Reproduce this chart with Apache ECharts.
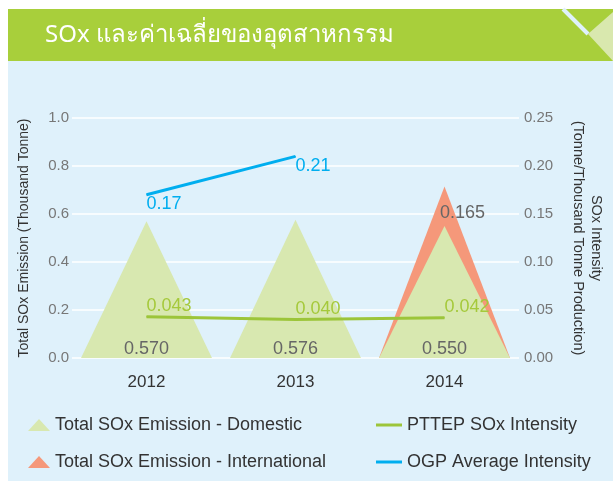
<!DOCTYPE html>
<html>
<head>
<meta charset="utf-8">
<script src="https://cdn.jsdelivr.net/npm/echarts@6/dist/echarts.min.js"></script>
<style>
  html, body { margin: 0; padding: 0; background: #ffffff; }
  #chartmain { width: 613px; height: 481px; }
</style>
</head>
<body>
<div id="chartmain"></div>
<script>
// data
var years = ['2012', '2013', '2014'];
var domestic = [0.570, 0.576, 0.550];
var international = [null, null, 0.165];
var pttepIntensity = [0.043, 0.040, 0.042];
var ogpIntensity = [0.17, 0.21, null];
var leftTicks = [0, 0.2, 0.4, 0.6, 0.8, 1.0];
var rightTicks = [0, 0.05, 0.10, 0.15, 0.20, 0.25];

// orange triangle sits behind the green one, so its height is the total
var totals = domestic.map(function (v, i) {
    return international[i] == null ? null : +(v + international[i]).toFixed(3);
});

var myChart = echarts.init(document.getElementById('chartmain'));
var font = 'Liberation Sans, Arial, sans-serif';

var option = {
    backgroundColor: '#ffffff',
    textStyle: { fontFamily: font },
    graphic: [
        // light blue panel
        { type: 'rect', shape: { x: 8, y: 61, width: 605, height: 420 }, style: { fill: '#dff1fb' }, z: -10 },
        // header bar
        { type: 'rect', shape: { x: 8, y: 9, width: 605, height: 52 }, style: { fill: '#a8cf3b' }, z: -5 },
        { type: 'polygon', shape: { points: [[588, 34], [613, 12], [613, 61]] }, style: { fill: '#d9e8ae' }, z: -4 },
        { type: 'line', shape: { x1: 563, y1: 9, x2: 588, y2: 34 }, style: { stroke: '#dff1fb', lineWidth: 4 }, z: -4 },
        {
            type: 'text', left: 45, top: 23,
            style: { text: 'SOx และค่าเฉลี่ยของอุตสาหกรรม', fill: '#ffffff', fontSize: 24, fontFamily: 'Noto Sans, DejaVu Sans, sans-serif' }
        }
    ],
    legend: [
        {
            left: 23, top: 411, orient: 'vertical', itemGap: 19,
            itemWidth: 22, itemHeight: 12,
            textStyle: { color: '#333', fontSize: 18, fontFamily: font },
            data: [
                { name: 'Total SOx Emission - Domestic', icon: 'triangle' },
                { name: 'Total SOx Emission - International', icon: 'triangle' }
            ]
        },
        {
            left: 371, top: 411, orient: 'vertical', itemGap: 19,
            itemWidth: 26, itemHeight: 3,
            textStyle: { color: '#333', fontSize: 18, fontFamily: font },
            data: [
                { name: 'PTTEP SOx Intensity', icon: 'rect' },
                { name: 'OGP Average Intensity', icon: 'rect' }
            ]
        }
    ],
    grid: { left: 72, right: 90, top: 118, bottom: 123 },
    xAxis: {
        type: 'category',
        data: years,
        axisLine: { show: false },
        axisTick: { show: false },
        axisLabel: { color: '#333', fontSize: 17, margin: 16 }
    },
    yAxis: [
        {
            type: 'value', min: 0, max: 1, interval: 0.2,
            name: 'Total SOx Emission (Thousand Tonne)',
            nameLocation: 'middle', nameGap: 41, nameRotate: 90,
            nameTextStyle: { color: '#333', fontSize: 14 },
            axisLabel: {
                color: '#777', fontSize: 15, margin: 3,
                formatter: function (v) { return v.toFixed(1); }
            },
            splitLine: { lineStyle: { color: '#ffffff', width: 1.5 } }
        },
        {
            type: 'value', min: 0, max: 0.25, interval: 0.05,
            name: 'SOx Intensity\n(Tonne/Thousand Tonne Production)',
            nameLocation: 'middle', nameGap: 50, nameRotate: -90,
            nameTextStyle: { color: '#333', fontSize: 14.5, lineHeight: 18 },
            axisLabel: {
                color: '#777', fontSize: 15, margin: 5,
                formatter: function (v) { return v.toFixed(2); }
            },
            splitLine: { show: false }
        }
    ],
    series: [
        {
            name: 'Total SOx Emission - International',
            type: 'pictorialBar',
            symbol: 'triangle',
            symbolSize: [131, '100%'],
            barGap: '-100%',
            itemStyle: { color: '#f5987a' },
            z: 1,
            label: {
                show: true, position: 'insideTop', offset: [18, 13],
                color: '#666', fontSize: 18,
                formatter: function (p) { return international[p.dataIndex].toFixed(3); }
            },
            data: totals
        },
        {
            name: 'Total SOx Emission - Domestic',
            type: 'pictorialBar',
            symbol: 'triangle',
            symbolSize: [131, '100%'],
            barGap: '-100%',
            itemStyle: { color: '#d8e8b0' },
            z: 2,
            label: {
                show: true, position: 'insideBottom', offset: [0, 5],
                color: '#666', fontSize: 18,
                formatter: function (p) { return p.value.toFixed(3); }
            },
            data: domestic
        },
        {
            name: 'PTTEP SOx Intensity',
            type: 'line',
            yAxisIndex: 1,
            symbol: 'circle', symbolSize: 1,
            lineStyle: { color: '#9cc53a', width: 3 },
            itemStyle: { color: '#9cc53a' },
            z: 5,
            label: {
                show: true, position: 'top', align: 'left', distance: 1,
                color: '#a5c93b', fontSize: 18,
                formatter: function (p) { return p.value.toFixed(3); }
            },
            data: pttepIntensity
        },
        {
            name: 'OGP Average Intensity',
            type: 'line',
            yAxisIndex: 1,
            symbol: 'circle', symbolSize: 1,
            lineStyle: { color: '#00aeef', width: 3 },
            itemStyle: { color: '#00aeef' },
            z: 5,
            label: {
                show: true, position: 'bottom', align: 'left', distance: 0,
                color: '#00aeef', fontSize: 18,
                formatter: function (p) { return p.value.toFixed(2); }
            },
            data: ogpIntensity
        }
    ]
};

myChart.setOption(option);
window.addEventListener('resize', function () {
    myChart.resize();
});
</script>
</body>
</html>
